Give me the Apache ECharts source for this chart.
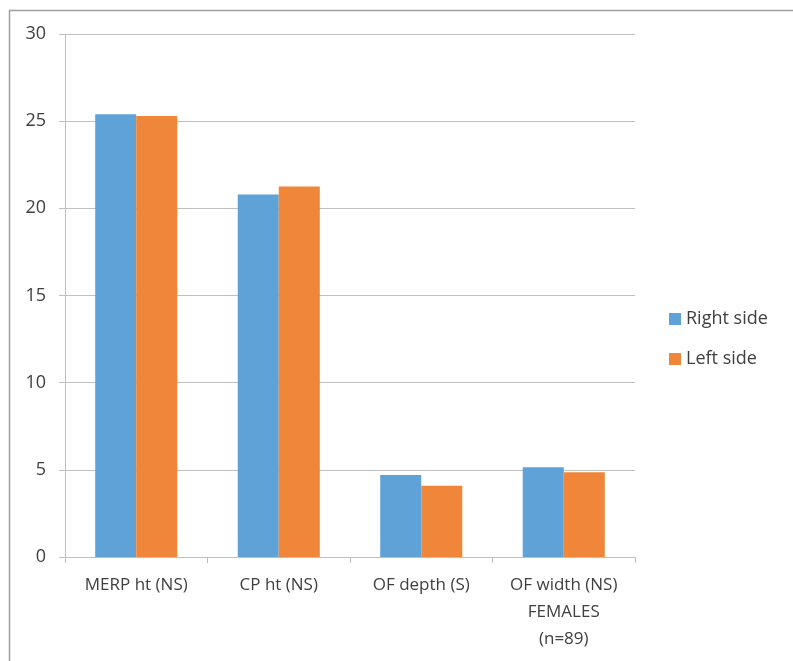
<!DOCTYPE html>
<html><head><meta charset="utf-8">
<script src="https://cdn.jsdelivr.net/npm/echarts@6/dist/echarts.min.js"></script>
<style>html,body{margin:0;padding:0;background:#fff}#c{width:793px;height:661px}</style>
</head><body><div id="c"></div>
<script>
const categories = ['MERP ht (NS)', 'CP ht (NS)', 'OF depth (S)', 'OF width (NS)\nFEMALES\n(n=89)'];
const rightSide = [25.4, 20.8, 4.7, 5.15];
const leftSide = [25.3, 21.25, 4.08, 4.86];
const seriesNames = ['Right side', 'Left side'];
const yTicks = [0, 5, 10, 15, 20, 25, 30];

const font = '"Open Sans", sans-serif';
const chart = echarts.init(document.getElementById('c'));
chart.setOption({
  animation: false,
  graphic: [{type: 'polyline', shape: {points: [[9.5, 661], [9.5, 10.5], [793, 10.5]]}, style: {stroke: '#a0a0a0', lineWidth: 1.5, fill: null}}],
  grid: {left: 65, right: 158, top: 34, bottom: 104},
  legend: {
    orient: 'vertical', left: 664, top: 304, itemWidth: 12, itemHeight: 12, itemGap: 20,
    icon: 'rect', data: seriesNames,
    textStyle: {fontFamily: font, fontSize: 18, color: '#404040', lineHeight: 20}
  },
  xAxis: {
    type: 'category', data: categories,
    axisLine: {lineStyle: {color: '#bfbfbf', width: 1}},
    axisTick: {show: true, length: 6, lineStyle: {color: '#bfbfbf'}},
    axisLabel: {fontFamily: font, fontSize: 17, color: '#404040', margin: 15, lineHeight: 27, interval: 0}
  },
  yAxis: {
    type: 'value', min: yTicks[0], max: yTicks[yTicks.length - 1], interval: 5,
    axisLine: {show: true, lineStyle: {color: '#bfbfbf'}},
    axisTick: {show: true, length: 6, lineStyle: {color: '#bfbfbf'}},
    splitLine: {lineStyle: {color: '#c0c0c0', width: 1}},
    axisLabel: {fontFamily: font, fontSize: 18, color: '#404040', margin: 19}
  },
  series: [
    {name: seriesNames[0], type: 'bar', data: rightSide, barWidth: '28.8%', barGap: '0%', itemStyle: {color: '#5fa2d8'}},
    {name: seriesNames[1], type: 'bar', data: leftSide, barWidth: '28.8%', itemStyle: {color: '#ef8639'}}
  ]
});
</script></body></html>
